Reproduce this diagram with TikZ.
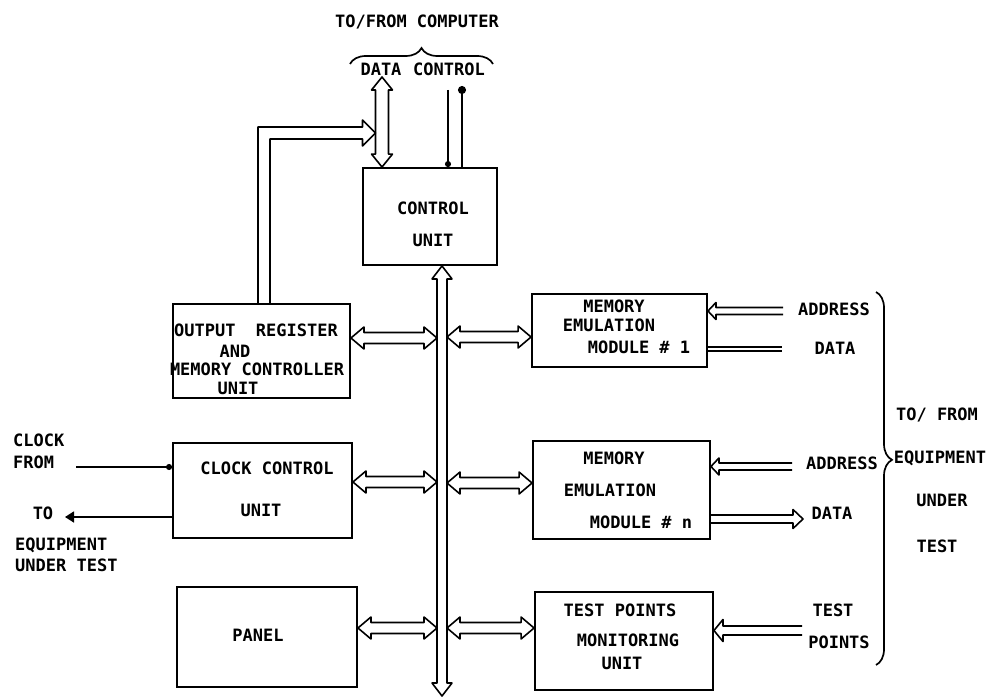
\documentclass[tikz,border=0pt]{standalone}
\usepackage{fontspec}
\setmainfont{DejaVu Sans Mono}
\usetikzlibrary{calc,arrows.meta,decorations.pathreplacing}
% hollow double-headed horizontal arrow: left tip, right tip, head half width, shaft half width
\newcommand{\hbiarr}[4]{%
 \draw[arr] (#1) -- ($(#1)+(13,-#3)$) -- ($(#1)+(13,-#4)$) -- ($(#2)+(-13,-#4)$) -- ($(#2)+(-13,-#3)$) -- (#2) -- ($(#2)+(-13,#3)$) -- ($(#2)+(-13,#4)$) -- ($(#1)+(13,#4)$) -- ($(#1)+(13,#3)$) -- cycle;}
% hollow double-headed vertical arrow: top tip, bottom tip, head half width, shaft half width
\newcommand{\vbiarr}[4]{%
 \draw[arr] (#1) -- ($(#1)+(-#3,13)$) -- ($(#1)+(-#4,13)$) -- ($(#2)+(-#4,-13)$) -- ($(#2)+(-#3,-13)$) -- (#2) -- ($(#2)+(#3,-13)$) -- ($(#2)+(#4,-13)$) -- ($(#1)+(#4,13)$) -- ($(#1)+(#3,13)$) -- cycle;}
% hollow single-headed horizontal arrow: tip, tail, head half width, shaft half width, signed head length
\newcommand{\sarr}[5]{%
 \draw[arr] ($(#2)+(0,-#4)$) -- ($(#1)+(#5,-#4)$) -- ($(#1)+(#5,-#3)$) -- (#1) -- ($(#1)+(#5,#3)$) -- ($(#1)+(#5,#4)$) -- ($(#2)+(0,#4)$);}
\begin{document}
\begin{tikzpicture}[x=1pt,y=-1pt,
  box/.style={draw, line width=1.9pt, inner sep=0pt},
  lbl/.style={inner sep=0pt, font=\bfseries\fontsize{17}{19}\selectfont},
  arr/.style={line width=1.6pt, line join=round},
  ln/.style={line width=1.7pt}]
\useasboundingbox (0,0) rectangle (995,698);
\fill[white] (0,0) rectangle (995,698);

% boxes
\node[box, minimum width=134pt, minimum height=97pt] (ctrl) at (430,216.5) {};
\node[box, minimum width=177pt, minimum height=94pt] (or) at (261.5,351) {};
\node[box, minimum width=175pt, minimum height=73pt] (mem1) at (619.5,330.5) {};
\node[box, minimum width=177pt, minimum height=98pt] (memn) at (621.5,490) {};
\node[box, minimum width=179pt, minimum height=95pt] (ccu) at (262.5,490.5) {};
\node[box, minimum width=180pt, minimum height=100pt] (panel) at (267,637) {};
\node[box, minimum width=178pt, minimum height=98pt] (tpm) at (624,641) {};

% texts
\node[lbl] (tfc) at (417,22) {TO/FROM COMPUTER};
\node[lbl] (data) at (381,69) {DATA};
\node[lbl] (ctl) at (449,69) {CONTROL};
\node[lbl] (c1) at (433,208) {CONTROL};
\node[lbl] (c2) at (433,240) {UNIT};
\node[lbl] (o1) at (256,330) {OUTPUT\ \ REGISTER};
\node[lbl] (o2) at (235,351) {AND};
\node[lbl] (o3) at (257,369) {MEMORY CONTROLLER};
\node[lbl] (o4) at (238,388) {UNIT};
\node[lbl] (m11) at (614,306) {MEMORY};
\node[lbl] (m12) at (609,325) {EMULATION};
\node[lbl] (m13) at (639,347) {MODULE \# 1};
\node[lbl] (mn1) at (614,458) {MEMORY};
\node[lbl] (mn2) at (610,490) {EMULATION};
\node[lbl] (mn3) at (641,522) {MODULE \# n};
\node[lbl] (ad1) at (834,309) {ADDRESS};
\node[lbl] (da1) at (835,348) {DATA};
\node[lbl] (ad2) at (842,463) {ADDRESS};
\node[lbl] (da2) at (832,513) {DATA};
\node[lbl] (e1) at (937,415) {TO/ FROM};
\node[lbl] (e2) at (940,458) {EQUIPMENT};
\node[lbl] (e3) at (942,500) {UNDER};
\node[lbl] (e4) at (937,546) {TEST};
\node[lbl, anchor=west] (k1) at (13,440) {CLOCK};
\node[lbl, anchor=west] (k2) at (13,462) {FROM};
\node[lbl] (k3) at (43,513) {TO};
\node[lbl, anchor=west] (k4) at (15,545) {EQUIPMENT};
\node[lbl, anchor=west] (k5) at (15,565) {UNDER TEST};
\node[lbl] (cc1) at (267,468) {CLOCK CONTROL};
\node[lbl] (cc2) at (261,510) {UNIT};
\node[lbl] (p1) at (258,635) {PANEL};
\node[lbl] (t1) at (620,610) {TEST POINTS};
\node[lbl] (t2) at (628,640) {MONITORING};
\node[lbl] (t3) at (622,663) {UNIT};
\node[lbl] (tp1) at (833,610) {TEST};
\node[lbl] (tp2) at (839,642) {POINTS};

% braces
\draw[ln, decorate, decoration={brace, amplitude=16pt, aspect=0.5}] (350,64) -- (493,64);
\draw[ln, decorate, decoration={brace, amplitude=16pt, aspect=0.45}] (876,292) -- (876,665);

% data arrow from computer
\coordinate (dtop) at (382,77);
\coordinate (dbot) at (dtop |- ctrl.north);
\vbiarr{dtop}{dbot}{10.5}{6.5}

% control lines
\coordinate (cl1) at (448,90);
\coordinate (cl2) at (462,86);
\draw[ln,-{Circle[length=6pt]}] (cl1) -- (cl1 |- ctrl.north);
\draw[ln,{Circle[length=8pt]}-] (cl2) -- (cl2 |- ctrl.north);

% feedback from output register to data path
\coordinate (fb0) at ([xshift=2.5pt]or.north);
\coordinate (fbtip) at ($(dtop)+(-6.5,56)$);
\draw[arr] ($(fb0)+(-6,0)$) |- ($(fbtip)+(-13,-6)$) -- ($(fbtip)+(-13,-13)$) -- (fbtip) -- ($(fbtip)+(-13,13)$) -- ($(fbtip)+(-13,6)$) -| ($(fb0)+(6,0)$);

% bus
\coordinate (bustop) at ([xshift=12pt]ctrl.south);
\coordinate (busbot) at (bustop |- 0,696);
\coordinate (busL) at ($(bustop)+(-5,0)$);
\coordinate (busR) at ($(bustop)+(5,0)$);
\vbiarr{bustop}{busbot}{10}{5}

% bus connections
\coordinate (a1) at ([yshift=13pt]or.east);     \coordinate (b1) at (busL |- a1); \hbiarr{a1}{b1}{11}{5.5}
\coordinate (a2) at ([yshift=8.5pt]ccu.east);   \coordinate (b2) at (busL |- a2); \hbiarr{a2}{b2}{11}{5.5}
\coordinate (a3) at ([yshift=9pt]panel.east);   \coordinate (b3) at (busL |- a3); \hbiarr{a3}{b3}{11}{5.5}
\coordinate (a4) at ([yshift=-6.5pt]mem1.west); \coordinate (b4) at (busR |- a4); \hbiarr{b4}{a4}{11}{5.5}
\coordinate (a5) at ([yshift=7pt]memn.west);    \coordinate (b5) at (busR |- a5); \hbiarr{b5}{a5}{11}{5.5}
\coordinate (a6) at ([yshift=13pt]tpm.west);    \coordinate (b6) at (busR |- a6); \hbiarr{b6}{a6}{11}{5.5}

% right side connections
\coordinate (r1) at ([yshift=19.5pt]mem1.east); \coordinate (s1) at (r1 -| 783,0);
\sarr{r1}{s1}{8.5}{3.5}{8}
\coordinate (r2) at ([yshift=-18.5pt]mem1.east); \coordinate (s2) at (r2 -| 782,0);
\draw[arr] ($(r2)+(0,-2)$) -- ($(s2)+(0,-2)$) ($(r2)+(0,2)$) -- ($(s2)+(0,2)$);
\coordinate (r3) at ([yshift=23.5pt]memn.east); \coordinate (s3) at (r3 -| 792,0);
\sarr{r3}{s3}{8.5}{3.5}{8}
\coordinate (r4) at ([yshift=-29pt]memn.east); \coordinate (s4) at (r4 -| 803,0);
\sarr{s4}{r4}{9.5}{4}{-10}
\coordinate (r5) at ([yshift=10.5pt]tpm.east); \coordinate (s5) at (r5 -| 802,0);
\sarr{r5}{s5}{11}{4.5}{9}

% clock lines
\coordinate (clkin) at (76,467);
\coordinate (clkout) at (65,517);
\draw[ln,-{Circle[length=6pt]}] (clkin) -- (clkin -| ccu.west);
\draw[ln,-{Triangle[length=9pt,width=11pt]}] (ccu.west |- clkout) -- (clkout);
\end{tikzpicture}
\end{document}
